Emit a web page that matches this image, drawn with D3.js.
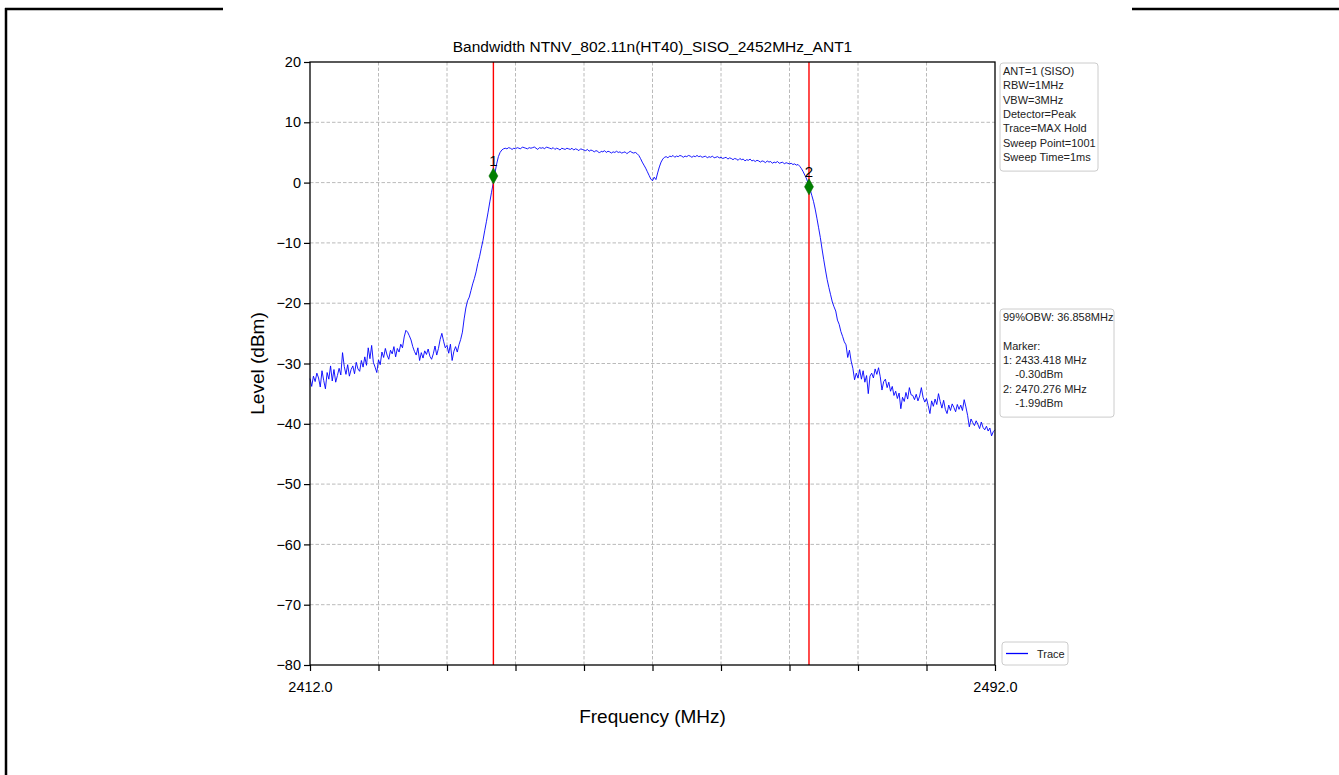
<!DOCTYPE html>
<html>
<head>
<meta charset="utf-8">
<script src="https://cdn.jsdelivr.net/npm/d3@7"></script>
<style>
html,body{margin:0;padding:0;background:#fff;}
svg{display:block;font-family:"Liberation Sans",Arial,sans-serif;}
</style>
</head>
<body>
<svg id="chart" width="1339" height="775"></svg>
<script>
// ---- data ----
const titleText = "Bandwidth NTNV_802.11n(HT40)_SISO_2452MHz_ANT1";
const xLabel = "Frequency (MHz)";
const yLabel = "Level (dBm)";
const freqStart = 2412.0;
const freqStop = 2492.0;
const xTickValues = [2412,2420,2428,2436,2444,2452,2460,2468,2476,2484,2492];
const xTickLabels = ["2412.0","","","","","","","","","","2492.0"];
const yTickValues = [20,10,0,-10,-20,-30,-40,-50,-60,-70,-80];
const traceLevels = [
-32.5,-33.8,-32.1,-33.0,-31.6,-32.4,-33.9,-31.2,-32.8,-34.2,-31.5,-32.6,-30.4,-32.9,-31.0,-33.1,-32.0,-30.8,-31.9,-28.2,
-30.5,-31.8,-30.2,-32.1,-31.0,-30.4,-31.7,-29.8,-30.9,-31.3,-29.5,-30.6,-28.9,-30.3,-27.4,-29.2,-27.0,-29.8,-30.6,-31.5,
-29.4,-30.2,-28.1,-29.0,-27.5,-28.6,-29.3,-27.8,-28.4,-27.2,-28.9,-27.5,-28.1,-26.8,-27.4,-25.6,-24.5,-24.8,-25.4,-26.1,
-27.2,-28.0,-28.6,-27.4,-29.5,-28.2,-29.1,-27.9,-28.5,-27.6,-28.8,-29.3,-28.4,-27.1,-28.6,-27.5,-26.0,-25.0,-26.3,-27.4,
-27.0,-28.3,-26.8,-29.5,-28.0,-27.2,-28.1,-26.9,-26.0,-24.8,-22.6,-20.8,-19.6,-19.0,-17.9,-16.8,-15.9,-14.8,-13.4,-12.3,
-10.9,-9.6,-8.0,-6.5,-4.9,-3.2,-1.6,-0.1,1.6,3.1,4.3,5.0,5.4,5.6,5.7,5.6,5.8,5.7,5.5,5.7,
5.6,5.8,5.7,5.6,5.9,5.8,5.7,5.6,5.8,5.7,5.8,5.9,5.7,5.5,5.8,5.7,5.8,5.6,5.9,5.8,
5.7,5.6,5.8,5.5,5.7,5.6,5.4,5.7,5.6,5.5,5.7,5.6,5.5,5.7,5.4,5.6,5.5,5.3,5.6,5.5,
5.4,5.3,5.5,5.2,5.4,5.3,5.1,5.3,5.2,4.9,5.2,5.1,5.3,5.0,5.2,5.1,4.9,5.1,5.0,5.2,
5.0,5.1,4.9,5.0,5.1,4.8,5.0,5.2,5.0,4.9,5.0,4.8,4.5,4.0,3.4,2.9,2.4,1.8,1.2,0.6,
0.3,0.9,0.5,1.6,2.6,3.4,3.9,4.2,4.3,4.1,4.4,4.3,4.5,4.2,4.4,4.3,4.5,4.4,4.2,4.4,
4.3,4.5,4.4,4.2,4.4,4.3,4.5,4.3,4.4,4.2,4.3,4.4,4.1,4.3,4.2,4.4,4.1,4.2,4.3,4.1,
4.2,4.0,4.1,4.2,3.9,4.1,4.0,3.8,4.0,3.9,3.7,4.0,3.8,3.9,3.6,3.8,3.7,3.9,3.6,3.7,
3.5,3.7,3.6,3.4,3.6,3.5,3.3,3.6,3.4,3.5,3.2,3.4,3.3,3.5,3.2,3.3,3.4,3.1,3.3,3.2,
3.1,3.2,3.0,3.1,2.9,3.0,2.7,2.3,1.8,1.2,0.6,-0.2,-1.1,-2.1,-3.1,-4.4,-5.9,-7.5,-9.1,-11.0,
-12.8,-14.5,-16.1,-17.4,-18.6,-19.8,-20.6,-21.3,-22.8,-23.5,-24.7,-25.5,-26.4,-26.9,-29.0,-27.8,-29.6,-30.8,-32.7,-31.6,
-32.4,-31.0,-32.6,-31.2,-33.1,-32.0,-35.0,-32.1,-31.6,-32.4,-30.9,-31.8,-30.7,-32.2,-34.4,-33.0,-32.6,-34.0,-33.1,-34.6,
-33.8,-35.3,-34.6,-35.8,-34.9,-37.5,-35.6,-36.3,-34.8,-35.9,-34.0,-35.2,-35.3,-36.0,-35.1,-36.2,-35.4,-34.0,-35.6,-36.4,
-35.8,-37.0,-38.3,-36.2,-37.1,-35.9,-36.8,-35.0,-36.3,-37.4,-36.1,-37.6,-38.3,-36.9,-37.8,-36.7,-37.3,-38.0,-36.8,-37.6,
-36.9,-37.8,-36.0,-37.2,-38.6,-40.5,-39.2,-39.8,-40.3,-39.5,-40.1,-40.8,-39.7,-40.6,-41.0,-40.4,-41.2,-40.7,-42.0,-41.3,
-41.0
];
const markerNames = ["1","2"];
const markerFreqs = [2433.418, 2470.276];
const markerLevels = [1.1, -0.7];
const infoLines = ["ANT=1 (SISO)","RBW=1MHz","VBW=3MHz","Detector=Peak","Trace=MAX Hold","Sweep Point=1001","Sweep Time=1ms"];
const resultLines = ["99%OBW: 36.858MHz","","Marker:","1: 2433.418 MHz","    -0.30dBm","2: 2470.276 MHz","    -1.99dBm"];
const legendLabels = ["Trace"];

// ---- layout ----
const svg = d3.select("#chart");
const L = 310, R = 995, T = 62, B = 665;
const x = d3.scaleLinear().domain([freqStart, freqStop]).range([L, R]);
const y = d3.scaleLinear().domain([-80, 20]).range([B, T]);
const step = (freqStop - freqStart) / (traceLevels.length - 1);
const trace = traceLevels.map((v, i) => ({f: freqStart + i * step, v}));

// page frame lines
svg.append("line").attr("x1",6).attr("x2",6).attr("y1",8).attr("y2",775).attr("stroke","#000").attr("stroke-width",2.5);
svg.append("line").attr("x1",5).attr("x2",223).attr("y1",9).attr("y2",9).attr("stroke","#000").attr("stroke-width",2.5);
svg.append("line").attr("x1",1132).attr("x2",1339).attr("y1",9).attr("y2",9).attr("stroke","#000").attr("stroke-width",2.5);

// grid
const grid = svg.append("g");
grid.selectAll(".gx").data(xTickValues.slice(1,-1)).enter().append("line")
  .attr("x1",d=>x(d)).attr("x2",d=>x(d)).attr("y1",T).attr("y2",B)
  .attr("stroke","#a8a8a8").attr("stroke-width",0.8).attr("stroke-dasharray","3.5,2");
grid.selectAll(".gy").data(yTickValues.slice(1,-1)).enter().append("line")
  .attr("x1",L).attr("x2",R).attr("y1",d=>y(d)).attr("y2",d=>y(d))
  .attr("stroke","#a8a8a8").attr("stroke-width",0.8).attr("stroke-dasharray","3.5,2");

// trace
const line = d3.line().x(d=>x(d.f)).y(d=>y(d.v));
svg.append("path").datum(trace).attr("d",line).attr("fill","none")
  .attr("stroke","#0000ff").attr("stroke-width",0.9).attr("stroke-linejoin","round");

// marker lines
svg.selectAll(".mline").data(markerFreqs).enter().append("line")
  .attr("x1",d=>x(d)).attr("x2",d=>x(d)).attr("y1",T).attr("y2",B)
  .attr("stroke","#ff0000").attr("stroke-width",1.4);

// marker diamonds
markerFreqs.forEach((f,i)=>{
  const cx = x(f), cy = y(markerLevels[i]);
  svg.append("path").attr("d",`M${cx},${cy-8} L${cx+4.5},${cy} L${cx},${cy+8} L${cx-4.5},${cy} Z`)
    .attr("fill","#008000").attr("stroke","#006400").attr("stroke-width",0.5);
  svg.append("text").attr("x",cx).attr("y",cy-10).attr("text-anchor","middle")
    .attr("font-size",15).attr("fill","#000").text(markerNames[i]);
});

// axes
const xAxis = d3.axisBottom(x).tickValues(xTickValues).tickFormat((d,i)=>xTickLabels[i]).tickSize(6).tickPadding(11);
const gx = svg.append("g").attr("transform",`translate(0,${B})`).call(xAxis);
gx.selectAll("text").attr("font-size",14.5).attr("fill","#000").attr("font-family","Liberation Sans, Arial, sans-serif");
gx.select(".domain").remove();
gx.selectAll("line").attr("stroke","#000").attr("stroke-width",1.2);

const yAxis = d3.axisLeft(y).tickValues(yTickValues).tickFormat(d=>d<0?"\u2212"+Math.abs(d):String(d)).tickSize(6).tickPadding(3);
const gy = svg.append("g").attr("transform",`translate(${L},0)`).call(yAxis);
gy.selectAll("text").attr("font-size",14.5).attr("fill","#000").attr("font-family","Liberation Sans, Arial, sans-serif");
gy.select(".domain").remove();
gy.selectAll("line").attr("stroke","#000").attr("stroke-width",1.2);

// frame
svg.append("rect").attr("x",L).attr("y",T).attr("width",R-L).attr("height",B-T)
  .attr("fill","none").attr("stroke","#000").attr("stroke-width",1.3);

// title & labels
svg.append("text").attr("x",(L+R)/2).attr("y",52).attr("text-anchor","middle")
  .attr("font-size",15.5).attr("fill","#000").text(titleText);
svg.append("text").attr("x",(L+R)/2).attr("y",723).attr("text-anchor","middle")
  .attr("font-size",19).attr("fill","#000").text(xLabel);
svg.append("text").attr("transform",`translate(264,${(T+B)/2}) rotate(-90)`).attr("text-anchor","middle")
  .attr("font-size",19).attr("fill","#000").text(yLabel);

// info boxes
function textBox(x0, y0, w, lines, lh){
  const h = lines.length*lh + 8;
  svg.append("rect").attr("x",x0).attr("y",y0).attr("width",w).attr("height",h).attr("rx",3)
    .attr("fill","#fff").attr("stroke","#cccccc").attr("stroke-width",1);
  svg.append("g").selectAll("text").data(lines).enter().append("text")
    .attr("x",x0+3).attr("y",(d,i)=>y0+12+i*lh).attr("font-size",11).attr("fill","#222")
    .attr("xml:space","preserve").style("white-space","pre").text(d=>d);
}
textBox(1000, 63, 98, infoLines, 14.3);
textBox(1000, 309, 114, resultLines, 14.3);

// legend
svg.append("rect").attr("x",1002).attr("y",642).attr("width",66).attr("height",23).attr("rx",3)
  .attr("fill","#fff").attr("stroke","#cccccc").attr("stroke-width",1);
svg.append("line").attr("x1",1006).attr("x2",1028).attr("y1",653.5).attr("y2",653.5)
  .attr("stroke","#0000ff").attr("stroke-width",1.3);
svg.append("text").attr("x",1037).attr("y",657.5).attr("font-size",11).attr("fill","#222").text(legendLabels[0]);
</script>
</body>
</html>
